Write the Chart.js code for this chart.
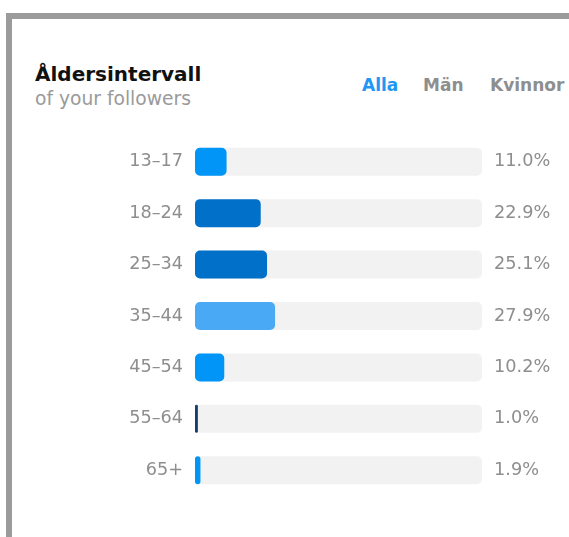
<!DOCTYPE html>
<html lang="sv">

<head>
    <meta charset="UTF-8">
    <meta name="viewport" content="width=device-width, initial-scale=1.0">
    <title>Åldersintervall</title>
    <script src="https://cdn.jsdelivr.net/npm/chart.js"></script>
    <style>
        body {
            margin: 0;
            width: 569px;
            height: 537px;
            position: relative;
            overflow: hidden;
            background: #fff;
            font-family: "DejaVu Sans", sans-serif;
        }

        #frame {
            position: absolute;
            left: 6px;
            top: 13px;
            right: -10px;
            bottom: -10px;
            border-top: 6px solid #9b9b9b;
            border-left: 6px solid #9b9b9b;
        }

        .txt {
            position: absolute;
            line-height: 1;
            white-space: nowrap;
        }

        #title {
            left: 35px;
            top: 64px;
            font-size: 20px;
            font-weight: 700;
            color: #111;
        }

        #sub {
            left: 35px;
            top: 90px;
            font-size: 18.7px;
            color: #9a9a9a;
        }

        .tab {
            top: 77px;
            font-size: 17px;
            font-weight: 700;
            color: #8e8e8e;
        }

        #chartBox {
            position: absolute;
            left: 0;
            top: 136px;
            width: 569px;
            height: 360px;
        }
    </style>
</head>

<body>
    <div id="frame"></div>
    <div class="txt" id="title">Åldersintervall</div>
    <div class="txt" id="sub">of your followers</div>
    <div class="txt tab" style="left:362px;color:#2196f3">Alla</div>
    <div class="txt tab" style="left:423px">Män</div>
    <div class="txt tab" style="left:490px">Kvinnor</div>
    <div id="chartBox"><canvas id="ageChart"></canvas></div>

    <script>
        // age groups and share of followers (%)
        const ageGroups = ['13–17', '18–24', '25–34', '35–44', '45–54', '55–64', '65+'];
        const shares = [11.0, 22.9, 25.1, 27.9, 10.2, 1.0, 1.9];
        const shareLabels = ['11.0%', '22.9%', '25.1%', '27.9%', '10.2%', '1.0%', '1.9%'];
        const trackMax = 100;

        const barColors = ['#0095f6', '#0070c9', '#0070c9', '#4aa9f5', '#0095f6', '#183d6e', '#0095f6'];
        const tickFont = { family: 'DejaVu Sans', size: 17.7 };

        // fixed axis widths, and no extra top/bottom padding from the tick labels
        const fixAxis = (w) => (s) => {
            s.width = w;
            s.paddingTop = 0;
            s.paddingBottom = 0;
        };

        const ctx = document.getElementById('ageChart').getContext('2d');
        new Chart(ctx, {
            type: 'bar',
            data: {
                labels: ageGroups,
                datasets: [{
                    data: shares,
                    backgroundColor: barColors,
                    borderRadius: 5,
                    borderSkipped: false,
                    grouped: false,
                    order: 0
                }, {
                    data: ageGroups.map(() => trackMax),
                    backgroundColor: '#f2f2f2',
                    borderRadius: 5,
                    borderSkipped: false,
                    grouped: false,
                    order: 1
                }]
            },
            options: {
                indexAxis: 'y',
                responsive: true,
                maintainAspectRatio: false,
                animation: false,
                barPercentage: 0.545,
                categoryPercentage: 1,
                layout: { padding: 0 },
                plugins: {
                    legend: { display: false },
                    tooltip: { enabled: false }
                },
                scales: {
                    x: {
                        display: false,
                        min: 0,
                        max: trackMax
                    },
                    y: {
                        position: 'left',
                        offset: true,
                        grid: { display: false, drawTicks: false },
                        border: { display: false },
                        ticks: { color: '#8e8e8e', padding: 12, font: tickFont },
                        afterFit: fixAxis(195)
                    },
                    y2: {
                        type: 'category',
                        position: 'right',
                        labels: shareLabels,
                        offset: true,
                        grid: { display: false, drawTicks: false },
                        border: { display: false },
                        ticks: { color: '#8e8e8e', padding: 12, font: tickFont },
                        afterFit: fixAxis(87)
                    }
                }
            }
        });
    </script>
</body>

</html>
